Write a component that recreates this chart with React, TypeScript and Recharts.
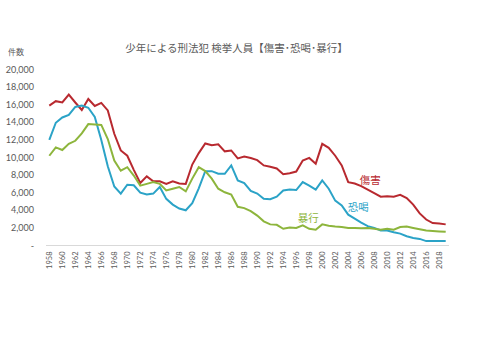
import React from 'react';
import { LineChart, Line, XAxis, YAxis, LabelList } from 'recharts';

const years = [
  1958, 1959, 1960, 1961, 1962, 1963, 1964, 1965, 1966, 1967,
  1968, 1969, 1970, 1971, 1972, 1973, 1974, 1975, 1976, 1977,
  1978, 1979, 1980, 1981, 1982, 1983, 1984, 1985, 1986, 1987,
  1988, 1989, 1990, 1991, 1992, 1993, 1994, 1995, 1996, 1997,
  1998, 1999, 2000, 2001, 2002, 2003, 2004, 2005, 2006, 2007,
  2008, 2009, 2010, 2011, 2012, 2013, 2014, 2015, 2016, 2017,
  2018, 2019,
];

// 傷害
const injury = [
  15900, 16400, 16250, 17150, 16250, 15400, 16650, 15850, 16200, 15350,
  12700, 10800, 10200, 8600, 7100, 7850, 7300, 7300, 7000, 7300,
  7050, 7000, 9200, 10500, 11600, 11400, 11500, 10700, 10800, 9900,
  10100, 9950, 9700, 9100, 8950, 8750, 8100, 8200, 8400, 9650,
  9950, 9300, 11550, 11100, 10200, 9100, 7200, 7050, 6750, 6350,
  5950, 5550, 5600, 5550, 5750, 5400, 4650, 3650, 2950, 2550,
  2500, 2400,
];

// 恐喝
const extortion = [
  12000, 13950, 14550, 14850, 15750, 15900, 15650, 14600, 12000, 9000,
  6700, 5900, 6900, 6850, 6000, 5800, 5900, 6650, 5300, 4650,
  4200, 4000, 4800, 6500, 8450, 8450, 8150, 8150, 9100, 7400,
  7100, 6200, 5900, 5300, 5250, 5550, 6250, 6350, 6300, 7200,
  6800, 6350, 7400, 6450, 5100, 4550, 3500, 3050, 2600, 2200,
  2000, 1700, 1700, 1500, 1350, 1050, 850, 750, 500, 500,
  500, 500,
];

// 暴行
const assault = [
  10200, 11150, 10850, 11550, 11900, 12750, 13800, 13750, 13700, 12100,
  9650, 8500, 8900, 7950, 6800, 7000, 7200, 7000, 6250, 6450,
  6650, 6150, 7600, 8900, 8450, 7600, 6450, 6050, 5800, 4400,
  4250, 3900, 3400, 2750, 2400, 2350, 1900, 2050, 2000, 2300,
  1900, 1800, 2400, 2250, 2150, 2100, 2000, 2000, 1950, 2000,
  1900, 1800, 1900, 1800, 2100, 2150, 2000, 1850, 1700, 1650,
  1600, 1550,
];

const yTicks = [0, 2000, 4000, 6000, 8000, 10000, 12000, 14000, 16000, 18000, 20000];
const seriesNames = ['傷害', '恐喝', '暴行'];
const labelYears = [2007, 2006, 1998];
const title = '少年による刑法犯 検挙人員【傷害･恐喝･暴行】';
const yUnit = '件数';

const colors = ['#B8292F', '#2BA3C7', '#8DB53C'];
const textColor = '#595959';
const numFont = 'Lato, "Noto Sans", sans-serif';
const jpFont = '"Noto Sans CJK JP", sans-serif';

const data = years.map((y, i) => ({
  year: String(y),
  injury: injury[i],
  extortion: extortion[i],
  assault: assault[i],
  injuryLabel: y === labelYears[0] ? seriesNames[0] : null,
  extortionLabel: y === labelYears[1] ? seriesNames[1] : null,
  assaultLabel: y === labelYears[2] ? seriesNames[2] : null,
}));

const XTick = (props: any) => {
  const { x, y, payload } = props;
  return (
    <text
      x={x}
      y={y}
      transform={`rotate(-90, ${x}, ${y})`}
      textAnchor="end"
      dominantBaseline="central"
      fontSize={7.5}
      fill={textColor}
      fontFamily={numFont}
    >
      {payload.value}
    </text>
  );
};

const makeLabel = (color: string, dx: number, dy: number) => (props: any) => {
  const { value } = props;
  if (!value) return null;
  const x = props.x ?? props.viewBox?.x;
  const y = props.y ?? props.viewBox?.y;
  return (
    <text
      x={x + dx}
      y={y + dy}
      fill={color}
      fontSize={10.5}
      textAnchor="middle"
      dominantBaseline="central"
      fontFamily={jpFont}
    >
      {value}
    </text>
  );
};

export default function App() {
  return (
    <div style={{ position: 'absolute', left: 0, top: 0, width: 480, height: 339, background: '#fff' }}>
      <div
        style={{
          position: 'absolute',
          left: 0,
          width: 473,
          top: 40,
          textAlign: 'center',
          fontSize: 10.5,
          lineHeight: '16px',
          color: textColor,
          fontFamily: jpFont,
          whiteSpace: 'nowrap',
        }}
      >
        {title}
      </div>
      <div
        style={{
          position: 'absolute',
          left: 8,
          top: 46,
          fontSize: 8,
          lineHeight: '12px',
          color: textColor,
          fontFamily: jpFont,
        }}
      >
        {yUnit}
      </div>
      <LineChart
        width={480}
        height={339}
        data={data}
        margin={{ top: 69.5, right: 31, bottom: 63.5, left: 6 }}
      >
        <XAxis
          dataKey="year"
          interval={1}
          height={30}
          tick={<XTick />}
          tickLine={false}
          tickMargin={0}
          axisLine={{ stroke: '#D9D9D9', strokeWidth: 1 }}
          padding={{ left: 3.3, right: 3.3 }}
        />
        <YAxis
          width={40}
          domain={[0, 20000]}
          ticks={yTicks}
          interval={0}
          axisLine={false}
          tickLine={false}
          tickSize={6}
          tickMargin={6}
          tick={{ fontSize: 9, fill: textColor, fontFamily: numFont }}
          tickFormatter={(v: number) => (v === 0 ? '-  ' : v.toLocaleString('en-US'))}
        />
        <Line
          type="linear"
          dataKey="injury"
          name={seriesNames[0]}
          stroke={colors[0]}
          strokeWidth={2}
          dot={false}
          isAnimationActive={false}
        >
          <LabelList dataKey="injuryLabel" content={makeLabel(colors[0], 2.5, -10)} />
        </Line>
        <Line
          type="linear"
          dataKey="extortion"
          name={seriesNames[1]}
          stroke={colors[1]}
          strokeWidth={2}
          dot={false}
          isAnimationActive={false}
        >
          <LabelList dataKey="extortionLabel" content={makeLabel(colors[1], -3, -16)} />
        </Line>
        <Line
          type="linear"
          dataKey="assault"
          name={seriesNames[2]}
          stroke={colors[2]}
          strokeWidth={2}
          dot={false}
          isAnimationActive={false}
        >
          <LabelList dataKey="assaultLabel" content={makeLabel(colors[2], -1, -11.5)} />
        </Line>
      </LineChart>
    </div>
  );
}
